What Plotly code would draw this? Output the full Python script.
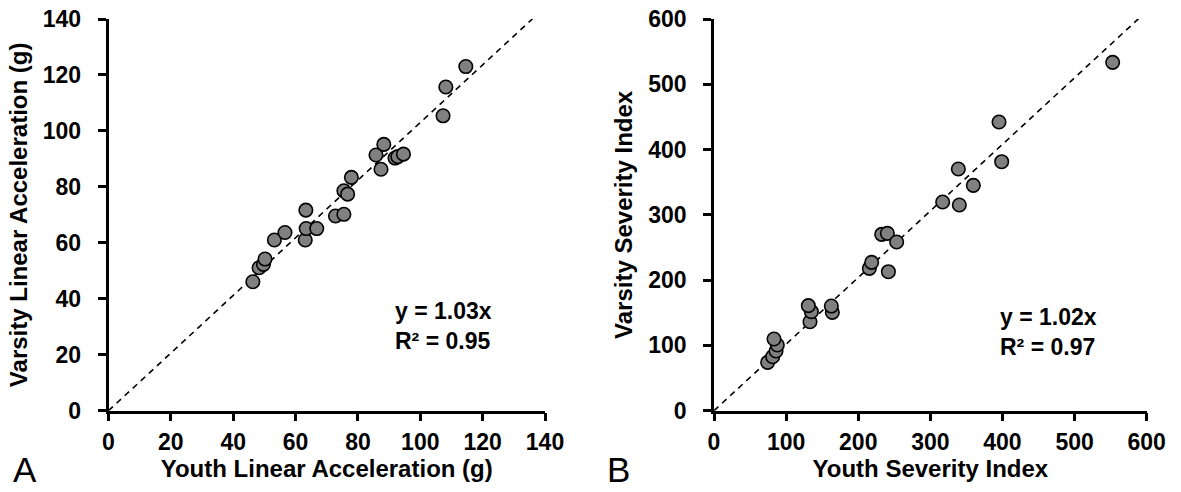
import plotly.graph_objects as go

# Panel A: peak linear acceleration (g)
youth_lin = [46.3, 48.3, 49.7, 50.2, 53.2, 56.6, 63.1, 63.3, 63.4, 66.8, 72.8, 75.5,
             75.5, 76.7, 77.9, 85.8, 87.4, 88.3, 91.9, 92.8, 94.6, 107.3, 108.2, 114.6]
varsity_lin = [46.1, 51.1, 52.3, 54.2, 61.0, 63.7, 61.0, 71.7, 65.1, 65.1, 69.6, 70.2,
               78.6, 77.4, 83.4, 91.4, 86.3, 95.2, 90.3, 90.8, 91.7, 105.4, 115.7, 123.0]

# Panel B: severity index
youth_si = [74.4, 81.4, 86.0, 87.8, 83.2, 133.1, 135.0, 130.8, 164.1, 162.7, 215.4, 218.6,
            241.8, 232.5, 240.4, 253.3, 317.1, 340.2, 338.8, 359.6, 398.9, 395.2, 552.8]
varsity_si = [74.0, 82.7, 91.4, 100.6, 109.8, 136.3, 151.7, 160.9, 150.6, 160.3, 218.0, 227.2,
              212.9, 270.1, 271.7, 258.4, 319.7, 315.1, 370.2, 345.2, 381.4, 442.2, 533.6]

slope_lin, r2_lin = 1.03, 0.95
slope_si, r2_si = 1.02, 0.97

lin_ticks = [0, 20, 40, 60, 80, 100, 120, 140]
si_ticks = [0, 100, 200, 300, 400, 500, 600]

FONT = "Liberation Sans"
tick_font = dict(family=FONT, size=23, color="black")
title_font = dict(family=FONT, size=24, color="black")

marker = dict(size=13.5, color="#808080", line=dict(color="black", width=1.6))
dash_line = dict(color="black", width=1.6, dash="6px,5px")

fig = go.Figure()

# trendlines through the origin
fig.add_trace(go.Scatter(x=[0, lin_ticks[-1]], y=[0, slope_lin * lin_ticks[-1]],
                         mode="lines", line=dash_line, xaxis="x", yaxis="y",
                         showlegend=False, hoverinfo="skip"))
fig.add_trace(go.Scatter(x=[0, si_ticks[-1]], y=[0, slope_si * si_ticks[-1]],
                         mode="lines", line=dash_line, xaxis="x2", yaxis="y2",
                         showlegend=False, hoverinfo="skip"))

fig.add_trace(go.Scatter(x=youth_lin, y=varsity_lin, mode="markers", marker=marker,
                         xaxis="x", yaxis="y", showlegend=False, cliponaxis=False))
fig.add_trace(go.Scatter(x=youth_si, y=varsity_si, mode="markers", marker=marker,
                         xaxis="x2", yaxis="y2", showlegend=False, cliponaxis=False))


def axis(domain, ticks, title, anchor, standoff, label_gap):
    return dict(
        domain=domain, range=[ticks[0], ticks[-1]], tickvals=ticks,
        ticktext=[f"<b>{t}</b>" for t in ticks],
        showgrid=False, zeroline=False, showline=True, linecolor="black", linewidth=2.5,
        ticks="outside", ticklen=8, tickwidth=2.5, tickcolor="black",
        tickfont=tick_font, ticklabelstandoff=label_gap, anchor=anchor, automargin=False,
        title=dict(text=f"<b>{title}</b>", font=title_font, standoff=standoff),
        fixedrange=True,
    )


y_dom = [1 - 410.7 / 492, 1 - 19 / 492]
fig.update_layout(
    template="none",
    width=1181, height=492,
    margin=dict(l=0, r=0, t=0, b=0, pad=0),
    paper_bgcolor="white", plot_bgcolor="white",
    xaxis=axis([108.5 / 1181, 545 / 1181], lin_ticks, "Youth Linear Acceleration (g)", "y", 0, 1),
    yaxis=axis(y_dom, lin_ticks, "Varsity Linear Acceleration (g)", "x", 9, 12),
    xaxis2=axis([714 / 1181, 1146.7 / 1181], si_ticks, "Youth Severity Index", "y2", 0, 1),
    yaxis2=axis(y_dom, si_ticks, "Varsity Severity Index", "x2", 9, 12),
)

ann_font = dict(family=FONT, size=23, color="black")
annotations = [
    dict(x=91.2, y=35.7, xref="x", yref="y", text=f"<b>y = {slope_lin:.2f}x</b>"),
    dict(x=91.2, y=25.0, xref="x", yref="y", text=f"<b>R² = {r2_lin:.2f}</b>"),
    dict(x=393.8, y=142.8, xref="x2", yref="y2", text=f"<b>y = {slope_si:.2f}x</b>"),
    dict(x=393.8, y=98.3, xref="x2", yref="y2", text=f"<b>R² = {r2_si:.2f}</b>"),
]
for a in annotations:
    a.update(showarrow=False, xanchor="left", yanchor="middle", align="left", font=ann_font)
    fig.add_annotation(**a)

# panel letters
for letter, px in (("A", 11), ("B", 605)):
    fig.add_annotation(x=px / 1181, y=1 - 469 / 492, xref="paper", yref="paper",
                       text=letter, showarrow=False, xanchor="left", yanchor="middle",
                       font=dict(family="Liberation Sans", size=35, color="black"))

fig.write_html("out.html")
